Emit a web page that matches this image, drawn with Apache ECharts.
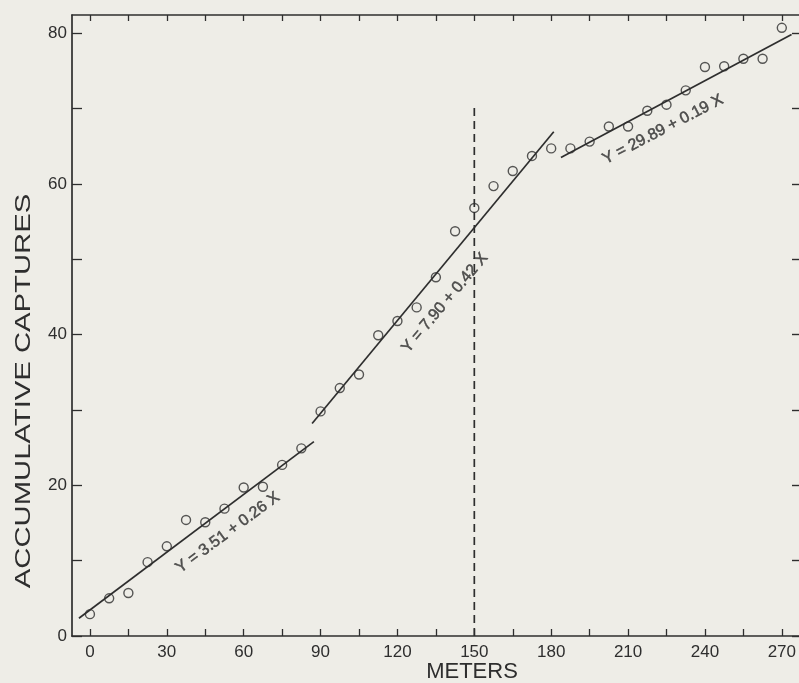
<!DOCTYPE html>
<html><head><meta charset="utf-8">
<script src="https://cdn.jsdelivr.net/npm/echarts@6/dist/echarts.min.js"></script>
<style>html,body{margin:0;padding:0;background:#eeede7;}#c{width:799px;height:683px;}</style>
</head><body><div id="c"></div>
<script>
// Data
const meters = [0,7.5,15,22.5,30,37.5,45,52.5,60,67.5,75,82.5,90,97.5,105,112.5,120,127.5,135,142.5,150,157.5,165,172.5,180,187.5,195,202.5,210,217.5,225,232.5,240,247.5,255,262.5,270];
const captures = [2.9,5.0,5.7,9.8,11.9,15.4,15.1,16.9,19.7,19.8,22.7,24.9,29.8,32.9,34.7,39.9,41.8,43.6,47.6,53.7,56.8,59.7,61.7,63.7,64.7,64.7,65.6,67.6,67.6,69.7,70.5,72.4,75.5,75.6,76.6,76.6,80.7];

const xTickValues = [0,15,30,45,60,75,90,105,120,135,150,165,180,195,210,225,240,255,270];
const xLabelValues = [0,30,60,90,120,150,180,210,240,270];
const yTickValues = [0,10,20,30,40,50,60,70,80];
const yLabelValues = [0,20,40,60,80];

const fitLabels = ['Y = 3.51 + 0.26 X', 'Y = 7.90 + 0.42 X', 'Y = 29.89 + 0.19 X'];
const fitStartX = [-4.3, 86.7, 183.8];
const fitStartY = [2.35, 28.2, 63.5];
const fitEndX = [87.4, 181.0, 273.8];
const fitEndY = [25.8, 66.9, 79.8];
const fitLabelX = [53.8, 138.5, 223.6];
const fitLabelY = [13.7, 44.2, 67.2];
const fitLabelAngle = [36.5, 50, 27.5];

const breakX = 150;
const breakBottom = 0;
const breakTop = 70.7;

const ink = '#2e2e2e';
const fontFam = '"Liberation Sans", Arial, sans-serif';

const series = [];
series.push({
  type: 'line',
  data: [[breakX, breakBottom], [breakX, breakTop]],
  symbol: 'none',
  lineStyle: { color: ink, width: 1.7, type: [8, 5] },
  silent: true, z: 2
});
for (let i = 0; i < fitLabels.length; i++) {
  series.push({
    type: 'line',
    data: [[fitStartX[i], fitStartY[i]], [fitEndX[i], fitEndY[i]]],
    symbol: 'none',
    lineStyle: { color: ink, width: 1.7 },
    silent: true, z: 3
  });
}
series.push({
  type: 'scatter',
  data: fitLabels.map((t, i) => ({ value: [fitLabelX[i], fitLabelY[i]], name: t, label: { rotate: fitLabelAngle[i] } })),
  symbolSize: 0,
  label: {
    show: true, position: 'inside', formatter: p => p.name,
    color: ink, fontSize: 16, fontFamily: fontFam,
    textBorderColor: ink, textBorderWidth: 0.5
  },
  silent: true, z: 4
});
series.push({
  type: 'scatter',
  data: meters.map((m, i) => [m, captures[i]]),
  symbol: 'circle',
  symbolSize: 9,
  itemStyle: { color: 'rgba(0,0,0,0)', borderColor: ink, borderWidth: 1.4 },
  z: 5
});

const chart = echarts.init(document.getElementById('c'));
chart.setOption({
  backgroundColor: '#eeede7',
  animation: false,
  grid: { left: 72, right: 0, top: 15, bottom: 47, containLabel: false },
  xAxis: [{
    type: 'value', min: -7, max: 276.7, position: 'bottom',
    axisLine: { show: true, onZero: false, lineStyle: { color: ink, width: 1.7 } },
    axisTick: { show: true, inside: true, length: 7, customValues: xTickValues, lineStyle: { color: ink, width: 1.3 } },
    axisLabel: { show: true, customValues: xLabelValues, color: ink, fontSize: 17, fontFamily: fontFam, margin: 8 },
    splitLine: { show: false }
  }, {
    type: 'value', min: -7, max: 276.7, position: 'top',
    axisLine: { show: true, onZero: false, lineStyle: { color: ink, width: 1.7 } },
    axisTick: { show: true, inside: true, length: 6, customValues: xTickValues, lineStyle: { color: ink, width: 1.3 } },
    axisLabel: { show: false },
    splitLine: { show: false }
  }],
  yAxis: [{
    type: 'value', min: 0, max: 82.4, position: 'left',
    axisLine: { show: true, onZero: false, lineStyle: { color: ink, width: 1.7 } },
    axisTick: { show: true, inside: true, length: 10, customValues: yTickValues, lineStyle: { color: ink, width: 1.3 } },
    axisLabel: { show: true, customValues: yLabelValues, color: ink, fontSize: 17, fontFamily: fontFam, margin: 5 },
    splitLine: { show: false }
  }, {
    type: 'value', min: 0, max: 82.4, position: 'right',
    axisLine: { show: false, onZero: false, lineStyle: { color: ink, width: 1.7 } },
    axisTick: { show: true, inside: true, length: 7, customValues: yTickValues, lineStyle: { color: ink, width: 1.4 } },
    axisLabel: { show: false },
    splitLine: { show: false }
  }],
  graphic: [{
    type: 'text', x: 472, y: 672,
    style: { text: 'METERS', align: 'center', verticalAlign: 'middle', fill: ink, font: '22px ' + fontFam }
  }, {
    type: 'text', x: 24, y: 391, rotation: Math.PI / 2, scaleX: 1.33,
    style: { text: 'ACCUMULATIVE CAPTURES', align: 'center', verticalAlign: 'middle', fill: ink, font: '22px ' + fontFam }
  }],
  series: series
});
</script>
</body></html>
